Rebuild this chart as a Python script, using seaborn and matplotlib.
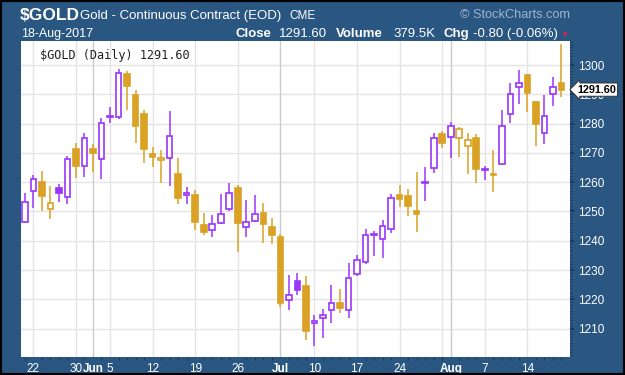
import matplotlib
matplotlib.use("Agg")
import matplotlib.pyplot as plt
from matplotlib.patches import Rectangle
from matplotlib.ticker import MultipleLocator
import numpy as np
import pandas as pd
import seaborn as sns

# daily OHLC for $GOLD, 19-May-2017 .. 18-Aug-2017
opens = [1246.5, 1257.1, 1260.2, 1250.7, 1258.1, 1255.1, 1271.2, 1265.6, 1271.2, 1267.9,
         1282.4, 1282.1, 1296.9, 1289.8, 1283.3, 1269.6, 1267.6, 1268.4, 1262.7, 1255.6,
         1255.6, 1245.4, 1243.7, 1246.0, 1250.7, 1258.1, 1244.8, 1246.9, 1249.6, 1244.8,
         1241.4, 1219.8, 1226.1, 1224.6, 1211.8, 1213.5, 1216.4, 1218.9, 1216.4, 1228.7,
         1232.9, 1241.9, 1240.5, 1243.9, 1255.6, 1255.3, 1250.2, 1259.8, 1265.0, 1276.3,
         1275.5, 1275.0, 1272.5, 1275.2, 1264.3, 1262.7, 1266.1, 1283.3, 1292.6, 1296.6,
         1287.3, 1276.7, 1290.0, 1294.0]
highs = [1256.4, 1262.5, 1263.8, 1258.7, 1259.3, 1269.1, 1273.5, 1276.9, 1272.9, 1281.8,
         1285.8, 1298.5, 1298.0, 1291.5, 1284.6, 1272.1, 1271.0, 1284.3, 1268.4, 1258.5,
         1257.3, 1249.4, 1248.8, 1256.0, 1259.8, 1259.0, 1253.9, 1255.6, 1253.0, 1247.9,
         1242.3, 1228.3, 1229.1, 1228.0, 1214.7, 1216.6, 1224.9, 1223.5, 1232.5, 1235.2,
         1244.0, 1243.3, 1247.1, 1256.0, 1259.0, 1257.6, 1263.3, 1265.1, 1276.9, 1277.5,
         1280.4, 1279.0, 1276.9, 1276.3, 1265.5, 1271.0, 1284.6, 1294.0, 1298.3, 1296.8,
         1287.7, 1289.8, 1296.0, 1307.1]
lows = [1246.2, 1251.1, 1250.3, 1247.3, 1253.1, 1252.4, 1261.3, 1261.9, 1263.4, 1261.0,
        1280.1, 1281.7, 1284.6, 1273.3, 1266.4, 1265.3, 1259.8, 1258.8, 1252.4, 1252.7,
        1243.6, 1242.0, 1241.4, 1245.8, 1250.3, 1236.1, 1241.4, 1246.5, 1239.2, 1238.8,
        1217.5, 1216.4, 1221.3, 1206.1, 1203.9, 1206.7, 1211.8, 1215.2, 1213.5, 1227.8,
        1232.0, 1234.9, 1234.0, 1242.5, 1251.6, 1248.6, 1242.9, 1253.7, 1263.0, 1271.6,
        1268.1, 1268.7, 1262.7, 1259.6, 1260.9, 1256.5, 1266.0, 1280.1, 1286.6, 1284.1,
        1272.5, 1272.9, 1286.1, 1289.0]
closes = [1253.3, 1261.0, 1255.4, 1253.0, 1256.2, 1267.9, 1265.6, 1275.0, 1269.9, 1280.1,
          1282.7, 1297.4, 1292.9, 1279.3, 1271.2, 1268.7, 1268.4, 1275.9, 1254.5, 1256.4,
          1246.5, 1243.1, 1245.6, 1249.1, 1256.4, 1246.0, 1246.5, 1249.1, 1245.6, 1242.1,
          1218.7, 1221.3, 1223.2, 1209.3, 1212.7, 1214.7, 1218.9, 1217.0, 1227.4, 1233.4,
          1241.9, 1242.0, 1245.2, 1254.5, 1254.2, 1252.0, 1249.0, 1260.2, 1275.0, 1273.3,
          1279.3, 1278.0, 1274.4, 1264.4, 1264.6, 1262.5, 1279.3, 1290.0, 1294.0, 1290.3,
          1279.7, 1282.7, 1292.4, 1291.6]

holidays = ['2017-05-29', '2017-07-04']
week_days = ['2017-05-22', '2017-05-30', '2017-06-05', '2017-06-12', '2017-06-19', '2017-06-26',
             '2017-07-10', '2017-07-17', '2017-07-24', '2017-07-31', '2017-08-07', '2017-08-14']
month_days = ['2017-06-01', '2017-07-03', '2017-08-01']
tick_days = ['2017-05-22', '2017-05-30', '2017-06-01', '2017-06-05', '2017-06-12', '2017-06-19',
             '2017-06-26', '2017-07-03', '2017-07-10', '2017-07-17', '2017-07-24', '2017-08-01',
             '2017-08-07', '2017-08-14']
tick_labels = ['22', '30', 'Jun', '5', '12', '19', '26', 'Jul', '10', '17', '24', 'Aug', '7', '14']
month_labels = ['Jun', 'Jul', 'Aug']
price_ticks = [1210, 1220, 1230, 1240, 1250, 1260, 1270, 1280, 1290, 1300]
last_price = 1291.60

PURPLE = '#9b35fa'
GOLD = '#daa225'
NAVY = '#2a5682'

days = pd.bdate_range('2017-05-19', '2017-08-18')
days = days[~days.isin(pd.to_datetime(holidays))]
df = pd.DataFrame({'date': days, 'open': opens, 'high': highs, 'low': lows, 'close': closes})
df['pos'] = np.arange(len(df))
pos_of = dict(zip(df['date'].dt.strftime('%Y-%m-%d'), df['pos']))

prev = df['close'].shift(1).fillna(df['open'])
df['color'] = np.where(df['close'] >= prev, PURPLE, GOLD)
df['face'] = np.where(df['close'] > df['open'], 'white', df['color'])

sns.set_theme(style="white")
plt.rcParams['font.family'] = ['Liberation Sans', 'DejaVu Sans']

fig = plt.figure(figsize=(6.25, 3.75), dpi=100)
fig.patch.set_facecolor(NAVY)
W, H = 625, 375
ax = fig.add_axes([21 / W, (H - 357) / H, (570 - 21) / W, (357 - 41) / H])
ax.set_facecolor('white')

# grid
for p in price_ticks:
    ax.axhline(p, color='#e4e4e4', lw=1, zorder=0)
for d in week_days:
    ax.axvline(pos_of[d], color='#e4e4e4', lw=1, zorder=0)
for d in month_days:
    ax.axvline(pos_of[d], color='#cbcbcb', lw=1, zorder=0)

# candles
ax.vlines(df['pos'], df['low'], df['high'], colors=df['color'], lw=1.1, zorder=2)
body = (df['close'] - df['open']).abs().clip(lower=0.35)
bottom = df[['open', 'close']].min(axis=1)
ax.bar(df['pos'], body, bottom=bottom, width=0.66, color=df['face'],
       edgecolor=df['color'], linewidth=1.2, zorder=3)

ax.set_xlim(-0.45, 64.0)
ax.set_ylim(1200.3, 1308.2)
sns.despine(ax=ax, left=True, bottom=True, top=True, right=True)

ax.set_xticks([pos_of[d] for d in tick_days])
ax.set_xticklabels(tick_labels)
for lab in ax.get_xticklabels():
    lab.set_color('white')
    lab.set_fontsize(8.5)
    if lab.get_text() in month_labels:
        lab.set_fontweight('bold')
ax.set_xticks(df['pos'], minor=True)
ax.tick_params(axis='x', which='major', length=0, pad=4)
ax.tick_params(axis='x', which='minor', length=2, color='#1b3a5c', width=0.8, bottom=True)

ax.yaxis.tick_right()
ax.set_yticks(price_ticks)
ax.yaxis.set_minor_locator(MultipleLocator(1))
ax.tick_params(axis='y', which='major', length=3, color='#1b3a5c', labelcolor='white',
               labelsize=8.5, pad=3, right=True)
ax.tick_params(axis='y', which='minor', length=1.5, color='#1b3a5c', width=0.8, right=True)

ax.annotate(f'{last_price:.2f}', xy=(1.0, last_price), xycoords=('axes fraction', 'data'),
            xytext=(5, 0), textcoords='offset points', ha='left', va='center',
            fontsize=7.8, fontweight='bold', color='black', zorder=10, annotation_clip=False,
            bbox=dict(boxstyle='larrow,pad=0.15', fc='white', ec='#333333', lw=0.7))

ax.text(0.035, 0.955, f'$GOLD (Daily) {last_price:.2f}', transform=ax.transAxes,
        family='DejaVu Sans Mono', fontsize=8.6, color='#222222', va='center', ha='left')


def ftext(x, y, s, **kw):
    fig.text(x / W, 1 - y / H, s, va='center', **kw)


ftext(20, 15, '$GOLD', color='white', fontsize=12.5, fontweight='bold')
ftext(80, 16, 'Gold - Continuous Contract (EOD)', color='white', fontsize=9.5)
ftext(289, 16, 'CME', color='white', fontsize=8.5)
ftext(570, 15, '\u00a9 StockCharts.com', color='#9fb4ca', fontsize=9.2, ha='right')
ftext(21, 34, '18-Aug-2017', color='white', fontsize=9)
ftext(235, 34, 'Close', color='white', fontsize=9.5, fontweight='bold')
ftext(279, 34, '1291.60', color='white', fontsize=9.5)
ftext(336, 34, 'Volume', color='white', fontsize=9.5, fontweight='bold')
ftext(393, 34, '379.5K', color='white', fontsize=9.5)
ftext(443, 34, 'Chg', color='white', fontsize=9.5, fontweight='bold')
ftext(473, 34, '-0.80 (-0.06%)', color='white', fontsize=9.5)
ftext(560, 35, '\u25bc', color='#e0234e', fontsize=6)

fig.add_artist(Rectangle((0, 0), 1, 1, transform=fig.transFigure, fill=False,
                         ec='black', lw=3))

fig.savefig('out.png', dpi=100, facecolor=fig.get_facecolor())
